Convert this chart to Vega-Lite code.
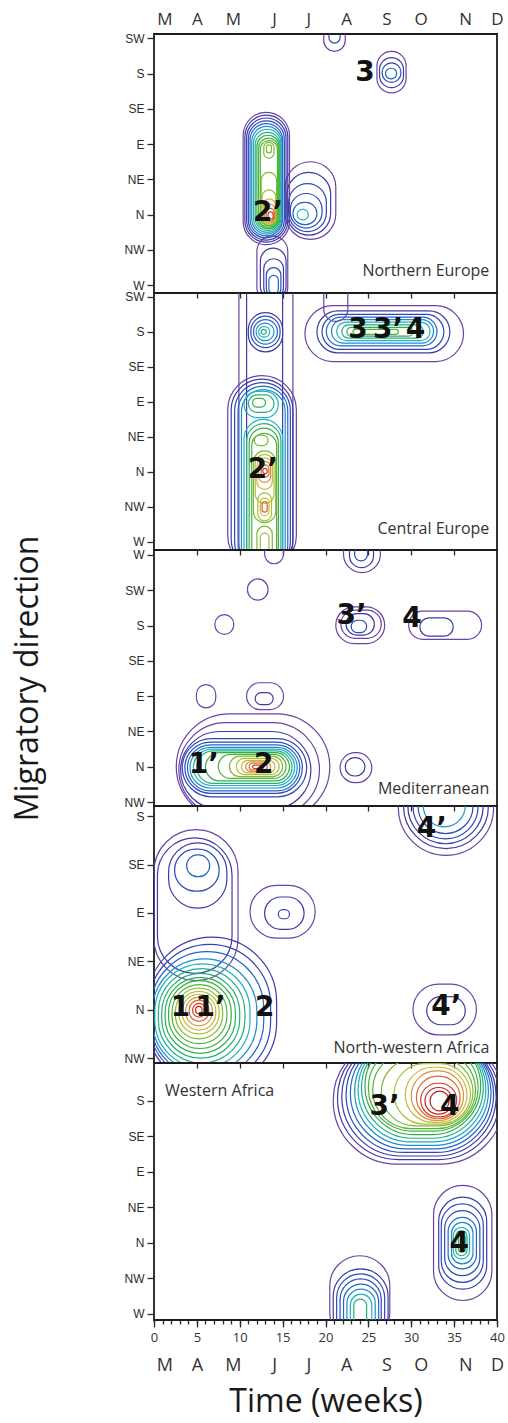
{
"$schema": "https://vega.github.io/schema/vega-lite/v6.json",
"background": "white",
"padding": {"left": 10, "top": 9, "right": 6, "bottom": 2},
"spacing": 0,
"bounds": "flush",
"config": {
 "view": {"stroke": "#1c1c1c", "strokeWidth": 1.8},
 "axis": {"grid": false, "domain": false, "labelFont": "Liberation Sans", "labelFontSize": 12, "labelColor": "#2b2b2b", "tickColor": "#2b2b2b", "tickWidth": 1.3, "titleFont": "Open Sans", "titleFontWeight": "normal", "titleColor": "#1a1a1a", "labelFlush": false, "labelOverlap": false}
},
"datasets": {
 "rings": [
  {"p":1,"lv":1,"x0":12.0,"x1":15.6,"y0":-0.5,"y1":1.4},
  {"p":1,"lv":2,"x0":12.4,"x1":15.4,"y0":-0.4,"y1":1.05},
  {"p":1,"lv":2,"x0":12.8,"x1":15.1,"y0":-0.35,"y1":0.75},
  {"p":1,"lv":3,"x0":13.1,"x1":14.8,"y0":-0.3,"y1":0.5},
  {"p":1,"lv":4,"x0":13.4,"x1":14.5,"y0":-0.25,"y1":0.28},
  {"p":1,"lv":1,"x0":15.3,"x1":21.2,"y0":1.3,"y1":3.5},
  {"p":1,"lv":2,"x0":15.5,"x1":20.6,"y0":1.42,"y1":3.2},
  {"p":1,"lv":3,"x0":15.7,"x1":20.1,"y0":1.52,"y1":2.88},
  {"p":1,"lv":3,"x0":15.9,"x1":19.6,"y0":1.62,"y1":2.6},
  {"p":1,"lv":4,"x0":16.2,"x1":19.0,"y0":1.72,"y1":2.35},
  {"p":1,"lv":6,"x0":16.7,"x1":18.0,"y0":1.85,"y1":2.15},
  {"p":1,"lv":1,"x0":10.4,"x1":15.8,"y0":1.15,"y1":4.9},
  {"p":1,"lv":2,"x0":10.6,"x1":15.6,"y0":1.22,"y1":4.82},
  {"p":1,"lv":2,"x0":10.8,"x1":15.4,"y0":1.28,"y1":4.74},
  {"p":1,"lv":3,"x0":11.0,"x1":15.2,"y0":1.34,"y1":4.66},
  {"p":1,"lv":4,"x0":11.2,"x1":15.0,"y0":1.4,"y1":4.58},
  {"p":1,"lv":5,"x0":11.4,"x1":14.9,"y0":1.45,"y1":4.5},
  {"p":1,"lv":6,"x0":11.6,"x1":14.8,"y0":1.5,"y1":4.42},
  {"p":1,"lv":7,"x0":11.8,"x1":14.7,"y0":1.55,"y1":4.33},
  {"p":1,"lv":8,"x0":12.0,"x1":14.6,"y0":1.6,"y1":4.25},
  {"p":1,"lv":9,"x0":12.2,"x1":14.5,"y0":1.64,"y1":4.17},
  {"p":1,"lv":9,"x0":12.4,"x1":14.4,"y0":1.68,"y1":4.1},
  {"p":1,"lv":10,"x0":12.8,"x1":14.0,"y0":3.6,"y1":4.05},
  {"p":1,"lv":10,"x0":13.1,"x1":13.7,"y0":3.75,"y1":3.98},
  {"p":1,"lv":10,"x0":12.5,"x1":14.3,"y0":1.7,"y1":3.2},
  {"p":1,"lv":11,"x0":12.6,"x1":14.2,"y0":1.73,"y1":2.7},
  {"p":1,"lv":12,"x0":12.75,"x1":14.15,"y0":1.76,"y1":2.45},
  {"p":1,"lv":13,"x0":12.9,"x1":14.1,"y0":1.79,"y1":2.3},
  {"p":1,"lv":14,"x0":13.1,"x1":14.0,"y0":1.82,"y1":2.18},
  {"p":1,"lv":15,"x0":13.3,"x1":13.9,"y0":1.87,"y1":2.08},
  {"p":1,"lv":1,"x0":26.0,"x1":29.4,"y0":5.45,"y1":6.63},
  {"p":1,"lv":2,"x0":26.3,"x1":29.1,"y0":5.6,"y1":6.45},
  {"p":1,"lv":3,"x0":26.6,"x1":28.8,"y0":5.75,"y1":6.3},
  {"p":1,"lv":4,"x0":27.0,"x1":28.3,"y0":5.85,"y1":6.15},
  {"p":1,"lv":1,"x0":19.8,"x1":22.3,"y0":6.63,"y1":7.8},
  {"p":1,"lv":3,"x0":20.4,"x1":21.7,"y0":6.86,"y1":7.6},

  {"p":2,"lv":1,"x0":9.9,"x1":16.2,"y0":-0.8,"y1":7.9},
  {"p":2,"lv":2,"x0":10.8,"x1":15.0,"y0":-0.8,"y1":7.9},
  {"p":2,"lv":1,"x0":8.6,"x1":16.6,"y0":-0.8,"y1":4.75},
  {"p":2,"lv":2,"x0":9.0,"x1":16.2,"y0":-0.8,"y1":4.65},
  {"p":2,"lv":3,"x0":9.4,"x1":15.9,"y0":-0.8,"y1":4.55},
  {"p":2,"lv":4,"x0":9.8,"x1":15.6,"y0":-0.8,"y1":4.45},
  {"p":2,"lv":5,"x0":10.2,"x1":15.3,"y0":-0.8,"y1":4.35},
  {"p":2,"lv":6,"x0":10.5,"x1":14.5,"y0":3.55,"y1":4.3},
  {"p":2,"lv":7,"x0":11.0,"x1":14.0,"y0":3.7,"y1":4.2},
  {"p":2,"lv":8,"x0":11.5,"x1":13.0,"y0":3.85,"y1":4.1},
  {"p":2,"lv":6,"x0":10.5,"x1":15.0,"y0":-0.8,"y1":3.5},
  {"p":2,"lv":7,"x0":10.8,"x1":14.8,"y0":-0.8,"y1":3.38},
  {"p":2,"lv":8,"x0":11.1,"x1":14.5,"y0":-0.8,"y1":3.25},
  {"p":2,"lv":9,"x0":11.4,"x1":14.3,"y0":-0.8,"y1":3.1},
  {"p":2,"lv":10,"x0":11.7,"x1":13.3,"y0":2.75,"y1":3.05},
  {"p":2,"lv":10,"x0":11.6,"x1":14.2,"y0":0.55,"y1":2.6},
  {"p":2,"lv":11,"x0":11.8,"x1":14.0,"y0":1.1,"y1":2.5},
  {"p":2,"lv":12,"x0":12.0,"x1":13.8,"y0":1.5,"y1":2.4},
  {"p":2,"lv":13,"x0":12.2,"x1":13.6,"y0":1.7,"y1":2.3},
  {"p":2,"lv":14,"x0":12.5,"x1":13.4,"y0":1.85,"y1":2.2},
  {"p":2,"lv":15,"x0":12.7,"x1":13.2,"y0":1.95,"y1":2.1},
  {"p":2,"lv":11,"x0":12.1,"x1":13.7,"y0":0.6,"y1":1.4},
  {"p":2,"lv":12,"x0":12.4,"x1":13.4,"y0":0.75,"y1":1.25},
  {"p":2,"lv":14,"x0":12.6,"x1":13.2,"y0":0.85,"y1":1.15},
  {"p":2,"lv":10,"x0":12.0,"x1":13.8,"y0":-0.8,"y1":0.45},
  {"p":2,"lv":11,"x0":12.4,"x1":13.4,"y0":-0.8,"y1":0.25},
  {"p":2,"lv":2,"x0":11.0,"x1":15.0,"y0":5.43,"y1":6.55},
  {"p":2,"lv":3,"x0":11.3,"x1":14.7,"y0":5.55,"y1":6.45},
  {"p":2,"lv":4,"x0":11.6,"x1":14.4,"y0":5.65,"y1":6.35},
  {"p":2,"lv":5,"x0":11.9,"x1":14.0,"y0":5.75,"y1":6.25},
  {"p":2,"lv":6,"x0":12.2,"x1":13.5,"y0":5.85,"y1":6.15},
  {"p":2,"lv":7,"x0":12.5,"x1":13.1,"y0":5.93,"y1":6.07},
  {"p":2,"lv":1,"x0":17.6,"x1":36.1,"y0":5.15,"y1":6.75},
  {"p":2,"lv":2,"x0":19.0,"x1":34.5,"y0":5.4,"y1":6.6},
  {"p":2,"lv":3,"x0":19.6,"x1":33.8,"y0":5.5,"y1":6.5},
  {"p":2,"lv":4,"x0":20.1,"x1":33.0,"y0":5.6,"y1":6.42},
  {"p":2,"lv":5,"x0":20.7,"x1":32.6,"y0":5.68,"y1":6.35},
  {"p":2,"lv":6,"x0":21.3,"x1":32.2,"y0":5.75,"y1":6.28},
  {"p":2,"lv":7,"x0":21.9,"x1":31.4,"y0":5.82,"y1":6.2},
  {"p":2,"lv":8,"x0":22.5,"x1":30.2,"y0":5.88,"y1":6.13},
  {"p":2,"lv":9,"x0":23.2,"x1":28.5,"y0":5.93,"y1":6.07},
  {"p":2,"lv":1,"x0":19.8,"x1":22.6,"y0":6.3,"y1":7.9},

  {"p":3,"lv":1,"x0":12.9,"x1":15.1,"y0":6.75,"y1":7.5},
  {"p":3,"lv":1,"x0":10.9,"x1":13.3,"y0":5.72,"y1":6.32},
  {"p":3,"lv":1,"x0":7.1,"x1":9.3,"y0":4.75,"y1":5.31},
  {"p":3,"lv":1,"x0":4.95,"x1":7.2,"y0":2.67,"y1":3.33},
  {"p":3,"lv":1,"x0":10.8,"x1":15.1,"y0":2.62,"y1":3.38},
  {"p":3,"lv":2,"x0":11.8,"x1":13.9,"y0":2.76,"y1":3.1},
  {"p":3,"lv":1,"x0":22.1,"x1":26.4,"y0":6.5,"y1":7.6},
  {"p":3,"lv":2,"x0":22.8,"x1":25.6,"y0":6.64,"y1":7.5},
  {"p":3,"lv":3,"x0":23.4,"x1":24.9,"y0":6.83,"y1":7.4},
  {"p":3,"lv":1,"x0":21.2,"x1":26.9,"y0":4.49,"y1":5.53},
  {"p":3,"lv":1,"x0":21.8,"x1":26.5,"y0":4.64,"y1":5.44},
  {"p":3,"lv":2,"x0":22.4,"x1":25.7,"y0":4.73,"y1":5.34},
  {"p":3,"lv":3,"x0":23.0,"x1":24.8,"y0":4.8,"y1":5.15},
  {"p":3,"lv":1,"x0":29.7,"x1":38.2,"y0":4.61,"y1":5.41},
  {"p":3,"lv":2,"x0":31.0,"x1":34.9,"y0":4.7,"y1":5.22},
  {"p":3,"lv":1,"x0":21.7,"x1":25.4,"y0":0.55,"y1":1.4},
  {"p":3,"lv":2,"x0":22.3,"x1":24.6,"y0":0.74,"y1":1.26},
  {"p":3,"lv":1,"x0":2.6,"x1":20.5,"y0":-0.5,"y1":2.5},
  {"p":3,"lv":1,"x0":2.9,"x1":19.3,"y0":-0.4,"y1":2.25},
  {"p":3,"lv":2,"x0":3.1,"x1":18.3,"y0":-0.2,"y1":2.0},
  {"p":3,"lv":3,"x0":3.3,"x1":17.8,"y0":0.15,"y1":1.8},
  {"p":3,"lv":3,"x0":3.6,"x1":17.3,"y0":0.25,"y1":1.7},
  {"p":3,"lv":4,"x0":3.9,"x1":17.0,"y0":0.32,"y1":1.62},
  {"p":3,"lv":5,"x0":4.2,"x1":16.7,"y0":0.4,"y1":1.55},
  {"p":3,"lv":6,"x0":4.6,"x1":16.4,"y0":0.47,"y1":1.5},
  {"p":3,"lv":7,"x0":5.0,"x1":16.1,"y0":0.53,"y1":1.45},
  {"p":3,"lv":8,"x0":6.0,"x1":15.8,"y0":0.6,"y1":1.4},
  {"p":3,"lv":9,"x0":7.5,"x1":15.4,"y0":0.67,"y1":1.35},
  {"p":3,"lv":10,"x0":8.8,"x1":15.0,"y0":0.72,"y1":1.3},
  {"p":3,"lv":11,"x0":9.6,"x1":14.6,"y0":0.78,"y1":1.24},
  {"p":3,"lv":12,"x0":10.2,"x1":14.1,"y0":0.83,"y1":1.18},
  {"p":3,"lv":13,"x0":10.7,"x1":13.6,"y0":0.87,"y1":1.14},
  {"p":3,"lv":14,"x0":11.1,"x1":13.2,"y0":0.91,"y1":1.1},
  {"p":3,"lv":15,"x0":11.5,"x1":12.8,"y0":0.95,"y1":1.05},

  {"p":4,"lv":1,"x0":0.0,"x1":9.8,"y0":1.6,"y1":4.72},
  {"p":4,"lv":2,"x0":0.4,"x1":9.1,"y0":1.75,"y1":4.55},
  {"p":4,"lv":2,"x0":1.7,"x1":8.5,"y0":3.1,"y1":4.45},
  {"p":4,"lv":3,"x0":2.4,"x1":7.6,"y0":3.45,"y1":4.32},
  {"p":4,"lv":4,"x0":3.8,"x1":6.5,"y0":3.75,"y1":4.2},
  {"p":4,"lv":2,"x0":-0.8,"x1":14.3,"y0":-0.6,"y1":2.5},
  {"p":4,"lv":3,"x0":-0.6,"x1":13.6,"y0":-0.5,"y1":2.35},
  {"p":4,"lv":4,"x0":-0.4,"x1":12.8,"y0":-0.4,"y1":2.2},
  {"p":4,"lv":5,"x0":-0.2,"x1":12.0,"y0":-0.3,"y1":2.05},
  {"p":4,"lv":6,"x0":0.1,"x1":11.2,"y0":-0.2,"y1":1.95},
  {"p":4,"lv":7,"x0":0.5,"x1":10.6,"y0":-0.1,"y1":1.85},
  {"p":4,"lv":7,"x0":0.9,"x1":10.0,"y0":0.0,"y1":1.75},
  {"p":4,"lv":8,"x0":1.3,"x1":9.5,"y0":0.1,"y1":1.67},
  {"p":4,"lv":8,"x0":1.7,"x1":9.0,"y0":0.2,"y1":1.6},
  {"p":4,"lv":9,"x0":2.1,"x1":8.5,"y0":0.3,"y1":1.52},
  {"p":4,"lv":10,"x0":2.5,"x1":8.0,"y0":0.4,"y1":1.45},
  {"p":4,"lv":11,"x0":2.9,"x1":7.6,"y0":0.5,"y1":1.38},
  {"p":4,"lv":12,"x0":3.3,"x1":7.2,"y0":0.58,"y1":1.32},
  {"p":4,"lv":13,"x0":3.7,"x1":6.8,"y0":0.67,"y1":1.26},
  {"p":4,"lv":14,"x0":4.1,"x1":6.4,"y0":0.76,"y1":1.2},
  {"p":4,"lv":15,"x0":4.5,"x1":6.0,"y0":0.85,"y1":1.13},
  {"p":4,"lv":16,"x0":4.85,"x1":5.6,"y0":0.92,"y1":1.07},
  {"p":4,"lv":1,"x0":11.2,"x1":18.8,"y0":2.48,"y1":3.57},
  {"p":4,"lv":2,"x0":12.9,"x1":17.5,"y0":2.66,"y1":3.33},
  {"p":4,"lv":3,"x0":14.5,"x1":15.8,"y0":2.88,"y1":3.07},
  {"p":4,"lv":1,"x0":28.5,"x1":39.6,"y0":4.19,"y1":6.2},
  {"p":4,"lv":2,"x0":29.1,"x1":39.0,"y0":4.33,"y1":6.2},
  {"p":4,"lv":2,"x0":29.6,"x1":38.4,"y0":4.43,"y1":6.2},
  {"p":4,"lv":3,"x0":30.2,"x1":37.8,"y0":4.53,"y1":6.2},
  {"p":4,"lv":3,"x0":30.8,"x1":37.2,"y0":4.64,"y1":6.2},
  {"p":4,"lv":5,"x0":31.4,"x1":36.3,"y0":4.78,"y1":6.2},
  {"p":4,"lv":1,"x0":30.2,"x1":37.6,"y0":0.48,"y1":1.53},
  {"p":4,"lv":2,"x0":31.8,"x1":36.3,"y0":0.69,"y1":1.27},

  {"p":5,"lv":1,"x0":20.9,"x1":40.8,"y0":4.22,"y1":7.8},
  {"p":5,"lv":2,"x0":21.4,"x1":40.3,"y0":4.35,"y1":7.8},
  {"p":5,"lv":2,"x0":21.9,"x1":39.9,"y0":4.45,"y1":7.8},
  {"p":5,"lv":3,"x0":22.4,"x1":39.6,"y0":4.55,"y1":7.8},
  {"p":5,"lv":4,"x0":22.9,"x1":39.3,"y0":4.65,"y1":7.8},
  {"p":5,"lv":5,"x0":23.4,"x1":39.0,"y0":4.75,"y1":7.8},
  {"p":5,"lv":6,"x0":23.8,"x1":38.7,"y0":4.85,"y1":7.8},
  {"p":5,"lv":7,"x0":24.2,"x1":38.4,"y0":4.95,"y1":7.8},
  {"p":5,"lv":8,"x0":24.6,"x1":38.1,"y0":5.05,"y1":7.8},
  {"p":5,"lv":9,"x0":25.0,"x1":37.8,"y0":5.15,"y1":7.6},
  {"p":5,"lv":9,"x0":25.5,"x1":37.5,"y0":5.22,"y1":7.4},
  {"p":5,"lv":10,"x0":26.5,"x1":37.2,"y0":5.3,"y1":7.2},
  {"p":5,"lv":11,"x0":28.0,"x1":36.9,"y0":5.35,"y1":7.05},
  {"p":5,"lv":12,"x0":29.3,"x1":36.5,"y0":5.4,"y1":6.95},
  {"p":5,"lv":13,"x0":30.0,"x1":36.1,"y0":5.45,"y1":6.85},
  {"p":5,"lv":14,"x0":30.6,"x1":35.7,"y0":5.5,"y1":6.7},
  {"p":5,"lv":15,"x0":31.1,"x1":35.3,"y0":5.55,"y1":6.5},
  {"p":5,"lv":16,"x0":31.6,"x1":34.8,"y0":5.63,"y1":6.38},
  {"p":5,"lv":17,"x0":32.2,"x1":34.4,"y0":5.72,"y1":6.28},
  {"p":5,"lv":1,"x0":20.5,"x1":27.5,"y0":-0.8,"y1":1.64},
  {"p":5,"lv":2,"x0":20.9,"x1":27.3,"y0":-0.8,"y1":1.27},
  {"p":5,"lv":3,"x0":21.3,"x1":26.9,"y0":-0.8,"y1":1.13},
  {"p":5,"lv":3,"x0":21.7,"x1":26.5,"y0":-0.8,"y1":0.99},
  {"p":5,"lv":4,"x0":22.1,"x1":26.2,"y0":-0.8,"y1":0.84},
  {"p":5,"lv":5,"x0":22.5,"x1":25.8,"y0":-0.8,"y1":0.7},
  {"p":5,"lv":6,"x0":22.9,"x1":25.4,"y0":-0.8,"y1":0.56},
  {"p":5,"lv":7,"x0":23.3,"x1":24.8,"y0":-0.8,"y1":0.42},
  {"p":5,"lv":1,"x0":32.6,"x1":39.4,"y0":0.38,"y1":3.62},
  {"p":5,"lv":2,"x0":33.2,"x1":38.8,"y0":0.7,"y1":3.29},
  {"p":5,"lv":3,"x0":33.5,"x1":38.4,"y0":0.89,"y1":3.1},
  {"p":5,"lv":3,"x0":33.9,"x1":38.0,"y0":1.08,"y1":2.91},
  {"p":5,"lv":4,"x0":34.3,"x1":37.6,"y0":1.27,"y1":2.72},
  {"p":5,"lv":5,"x0":34.7,"x1":37.2,"y0":1.41,"y1":2.58},
  {"p":5,"lv":6,"x0":34.9,"x1":36.8,"y0":1.55,"y1":2.44},
  {"p":5,"lv":7,"x0":35.2,"x1":36.5,"y0":1.64,"y1":2.35},
  {"p":5,"lv":7,"x0":35.5,"x1":36.3,"y0":1.74,"y1":2.25}
 ],
 "digits": [
  {"p":1,"t":"2’","x":13.3,"y":2.05},
  {"p":1,"t":"3","x":24.6,"y":6.01},
  {"p":2,"t":"2’","x":12.7,"y":2.06},
  {"p":2,"t":"3","x":23.8,"y":6.05},
  {"p":2,"t":"3’","x":27.3,"y":6.05},
  {"p":2,"t":"4","x":30.5,"y":6.05},
  {"p":3,"t":"1’","x":5.8,"y":1.04},
  {"p":3,"t":"2","x":12.8,"y":1.04},
  {"p":3,"t":"3’","x":23.05,"y":5.27},
  {"p":3,"t":"4","x":30.1,"y":5.19},
  {"p":4,"t":"1","x":3.1,"y":1.03},
  {"p":4,"t":"1’","x":6.6,"y":1.03},
  {"p":4,"t":"2","x":12.9,"y":1.03},
  {"p":4,"t":"4’","x":32.4,"y":4.74},
  {"p":4,"t":"4’","x":34.1,"y":1.05},
  {"p":5,"t":"3’","x":26.9,"y":5.82},
  {"p":5,"t":"4","x":34.5,"y":5.82},
  {"p":5,"t":"4","x":35.6,"y":1.97}
 ],
 "regions": [
  {"p":1,"name":"Northern Europe","x":39.1,"y":0.4},
  {"p":2,"name":"Central Europe","x":39.1,"y":0.37},
  {"p":3,"name":"Mediterranean","x":39.1,"y":0.36},
  {"p":4,"name":"North-western Africa","x":39.1,"y":0.21},
  {"p":5,"name":"Western Africa","x":1.28,"y":6.27}
 ]
},
"vconcat": [
 {
  "width": 343, "height": 259,
  "resolve": {"axis": {"x": "independent"}},
  "layer": [
   {
    "data": {"name": "rings"},
    "transform": [{"filter": "datum.p == 1"}],
    "mark": {"type": "rect", "filled": false, "cornerRadius": 999, "strokeWidth": 1.2, "clip": true},
    "encoding": {
     "x": {"field": "x0", "type": "quantitative", "scale": {"domain": [0, 40], "nice": false, "zero": false},
      "axis": {"orient": "top", "values": [1.2, 5, 9.2, 14, 18, 22.4, 27.1, 31.1, 36.3, 40], "tickCount": 60, "labelExpr": "datum.value < 3 ? 'M' : datum.value < 7 ? 'A' : datum.value < 11 ? 'M' : datum.value < 16 ? 'J' : datum.value < 20 ? 'J' : datum.value < 25 ? 'A' : datum.value < 29 ? 'S' : datum.value < 34 ? 'O' : datum.value < 38 ? 'N' : 'D'", "ticks": false, "labelFont": "Open Sans", "labelFontSize": 17, "labelColor": "#333", "labelPadding": 6, "title": null}},
     "x2": {"field": "x1"},
     "y": {"field": "y0", "type": "quantitative", "scale": {"domain": [-0.22, 7.12], "nice": false, "zero": false},
      "axis": {"values": [0,1,2,3,4,5,6,7], "tickCount": 60, "labelExpr": "['W','NW','N','NE','E','SE','S','SW'][datum.value]", "tickSize": 7, "labelPadding": 3, "title": null}},
     "y2": {"field": "y1"},
     "color": {"field": "lv", "type": "ordinal", "legend": null, "scale": {"domain": [1,2,3,4,5,6,7,8,9,10,11,12,13,14,15,16,17], "range": ["#6b42a6","#3f3aa6","#2c49b8","#2566c8","#1f8ecc","#1fb3c4","#22b07e","#2fae4a","#4db43a","#7cbd35","#a8c13a","#cdb836","#d9923a","#d9682f","#d43d28","#cc2222","#c41a1a"]}}
    }
   },
   {
    "data": {"name": "digits"},
    "transform": [{"filter": "datum.p == 1"}],
    "mark": {"type": "text", "font": "DejaVu Sans", "fontWeight": "bold", "fontSize": 28, "color": "#111"},
    "encoding": {
     "x": {"field": "x", "type": "quantitative", "axis": {"orient": "bottom", "values": [5,10,15,20,25,30,35], "tickCount": 60, "labels": false, "tickSize": 5, "title": null}},
     "y": {"field": "y", "type": "quantitative"},
     "text": {"field": "t"}
    }
   },
   {
    "data": {"name": "regions"},
    "transform": [{"filter": "datum.p == 1"}],
    "mark": {"type": "text", "font": "Open Sans", "fontSize": 16, "align": "right", "color": "#333"},
    "encoding": {
     "x": {"field": "x", "type": "quantitative", "axis": null},
     "y": {"field": "y", "type": "quantitative"},
     "text": {"field": "name"}
    }
   }
  ]
 },
 {
  "width": 343, "height": 257,
  "layer": [
   {
    "data": {"name": "rings"},
    "transform": [{"filter": "datum.p == 2"}],
    "mark": {"type": "rect", "filled": false, "cornerRadius": 999, "strokeWidth": 1.2, "clip": true},
    "encoding": {
     "x": {"field": "x0", "type": "quantitative", "scale": {"domain": [0, 40], "nice": false, "zero": false},
      "axis": {"orient": "bottom", "values": [5,10,15,20,25,30,35], "tickCount": 60, "labels": false, "tickSize": 5, "title": null}},
     "x2": {"field": "x1"},
     "y": {"field": "y0", "type": "quantitative", "scale": {"domain": [-0.23, 7.11], "nice": false, "zero": false},
      "axis": {"values": [0,1,2,3,4,5,6,7], "tickCount": 60, "labelExpr": "['W','NW','N','NE','E','SE','S','SW'][datum.value]", "tickSize": 7, "labelPadding": 3, "title": null}},
     "y2": {"field": "y1"},
     "color": {"field": "lv", "type": "ordinal", "legend": null, "scale": {"domain": [1,2,3,4,5,6,7,8,9,10,11,12,13,14,15,16,17], "range": ["#6b42a6","#3f3aa6","#2c49b8","#2566c8","#1f8ecc","#1fb3c4","#22b07e","#2fae4a","#4db43a","#7cbd35","#a8c13a","#cdb836","#d9923a","#d9682f","#d43d28","#cc2222","#c41a1a"]}}
    }
   },
   {
    "data": {"name": "digits"},
    "transform": [{"filter": "datum.p == 2"}],
    "mark": {"type": "text", "font": "DejaVu Sans", "fontWeight": "bold", "fontSize": 28, "color": "#111"},
    "encoding": {
     "x": {"field": "x", "type": "quantitative"},
     "y": {"field": "y", "type": "quantitative"},
     "text": {"field": "t"}
    }
   },
   {
    "data": {"name": "regions"},
    "transform": [{"filter": "datum.p == 2"}],
    "mark": {"type": "text", "font": "Open Sans", "fontSize": 16, "align": "right", "color": "#333"},
    "encoding": {
     "x": {"field": "x", "type": "quantitative"},
     "y": {"field": "y", "type": "quantitative"},
     "text": {"field": "name"}
    }
   }
  ]
 },
 {
  "width": 343, "height": 256,
  "layer": [
   {
    "data": {"name": "rings"},
    "transform": [{"filter": "datum.p == 3"}],
    "mark": {"type": "rect", "filled": false, "cornerRadius": 999, "strokeWidth": 1.2, "clip": true},
    "encoding": {
     "x": {"field": "x0", "type": "quantitative", "scale": {"domain": [0, 40], "nice": false, "zero": false},
      "axis": {"orient": "bottom", "values": [5,10,15,20,25,30,35], "tickCount": 60, "labels": false, "tickSize": 5, "title": null}},
     "x2": {"field": "x1"},
     "y": {"field": "y0", "type": "quantitative", "scale": {"domain": [-0.11, 7.14], "nice": false, "zero": false},
      "axis": {"values": [0,1,2,3,4,5,6,7], "tickCount": 60, "labelExpr": "['NW','N','NE','E','SE','S','SW','W'][datum.value]", "tickSize": 7, "labelPadding": 3, "title": "Migratory direction", "titleFontSize": 32, "titlePadding": 80}},
     "y2": {"field": "y1"},
     "color": {"field": "lv", "type": "ordinal", "legend": null, "scale": {"domain": [1,2,3,4,5,6,7,8,9,10,11,12,13,14,15,16,17], "range": ["#6b42a6","#3f3aa6","#2c49b8","#2566c8","#1f8ecc","#1fb3c4","#22b07e","#2fae4a","#4db43a","#7cbd35","#a8c13a","#cdb836","#d9923a","#d9682f","#d43d28","#cc2222","#c41a1a"]}}
    }
   },
   {
    "data": {"name": "digits"},
    "transform": [{"filter": "datum.p == 3"}],
    "mark": {"type": "text", "font": "DejaVu Sans", "fontWeight": "bold", "fontSize": 28, "color": "#111"},
    "encoding": {
     "x": {"field": "x", "type": "quantitative"},
     "y": {"field": "y", "type": "quantitative"},
     "text": {"field": "t"}
    }
   },
   {
    "data": {"name": "regions"},
    "transform": [{"filter": "datum.p == 3"}],
    "mark": {"type": "text", "font": "Open Sans", "fontSize": 16, "align": "right", "color": "#333"},
    "encoding": {
     "x": {"field": "x", "type": "quantitative"},
     "y": {"field": "y", "type": "quantitative"},
     "text": {"field": "name"}
    }
   }
  ]
 },
 {
  "width": 343, "height": 257,
  "layer": [
   {
    "data": {"name": "rings"},
    "transform": [{"filter": "datum.p == 4"}],
    "mark": {"type": "rect", "filled": false, "cornerRadius": 999, "strokeWidth": 1.2, "clip": true},
    "encoding": {
     "x": {"field": "x0", "type": "quantitative", "scale": {"domain": [0, 40], "nice": false, "zero": false},
      "axis": {"orient": "bottom", "values": [5,10,15,20,25,30,35], "tickCount": 60, "labels": false, "tickSize": 5, "title": null}},
     "x2": {"field": "x1"},
     "y": {"field": "y0", "type": "quantitative", "scale": {"domain": [-0.1, 5.21], "nice": false, "zero": false},
      "axis": {"values": [0,1,2,3,4,5], "tickCount": 60, "labelExpr": "['NW','N','NE','E','SE','S'][datum.value]", "tickSize": 7, "labelPadding": 3, "title": null}},
     "y2": {"field": "y1"},
     "color": {"field": "lv", "type": "ordinal", "legend": null, "scale": {"domain": [1,2,3,4,5,6,7,8,9,10,11,12,13,14,15,16,17], "range": ["#6b42a6","#3f3aa6","#2c49b8","#2566c8","#1f8ecc","#1fb3c4","#22b07e","#2fae4a","#4db43a","#7cbd35","#a8c13a","#cdb836","#d9923a","#d9682f","#d43d28","#cc2222","#c41a1a"]}}
    }
   },
   {
    "data": {"name": "digits"},
    "transform": [{"filter": "datum.p == 4"}],
    "mark": {"type": "text", "font": "DejaVu Sans", "fontWeight": "bold", "fontSize": 28, "color": "#111"},
    "encoding": {
     "x": {"field": "x", "type": "quantitative"},
     "y": {"field": "y", "type": "quantitative"},
     "text": {"field": "t"}
    }
   },
   {
    "data": {"name": "regions"},
    "transform": [{"filter": "datum.p == 4"}],
    "mark": {"type": "text", "font": "Open Sans", "fontSize": 16, "align": "right", "color": "#333"},
    "encoding": {
     "x": {"field": "x", "type": "quantitative"},
     "y": {"field": "y", "type": "quantitative"},
     "text": {"field": "name"}
    }
   }
  ]
 },
 {
  "width": 343, "height": 257,
  "resolve": {"axis": {"x": "independent"}},
  "layer": [
   {
    "data": {"name": "rings"},
    "transform": [{"filter": "datum.p == 5"}],
    "mark": {"type": "rect", "filled": false, "cornerRadius": 999, "strokeWidth": 1.2, "clip": true},
    "encoding": {
     "x": {"field": "x0", "type": "quantitative", "scale": {"domain": [0, 40], "nice": false, "zero": false},
      "axis": {"orient": "bottom", "values": [0,5,10,15,20,25,30,35,40], "tickCount": 60, "format": "d", "tickSize": 7, "labelPadding": 4, "labelFont": "Open Sans", "labelFontSize": 13, "labelColor": "#333", "title": null}},
     "x2": {"field": "x1"},
     "y": {"field": "y0", "type": "quantitative", "scale": {"domain": [-0.17, 7.07], "nice": false, "zero": false},
      "axis": {"values": [0,1,2,3,4,5,6], "tickCount": 60, "labelExpr": "['W','NW','N','NE','E','SE','S'][datum.value]", "tickSize": 7, "labelPadding": 3, "title": null}},
     "y2": {"field": "y1"},
     "color": {"field": "lv", "type": "ordinal", "legend": null, "scale": {"domain": [1,2,3,4,5,6,7,8,9,10,11,12,13,14,15,16,17], "range": ["#6b42a6","#3f3aa6","#2c49b8","#2566c8","#1f8ecc","#1fb3c4","#22b07e","#2fae4a","#4db43a","#7cbd35","#a8c13a","#cdb836","#d9923a","#d9682f","#d43d28","#cc2222","#c41a1a"]}}
    }
   },
   {
    "data": {"name": "digits"},
    "transform": [{"filter": "datum.p == 5"}],
    "mark": {"type": "text", "font": "DejaVu Sans", "fontWeight": "bold", "fontSize": 28, "color": "#111"},
    "encoding": {
     "x": {"field": "x", "type": "quantitative", "axis": {"orient": "bottom", "values": [0,1,2,3,4,5,6,7,8,9,10,11,12,13,14,15,16,17,18,19,20,21,22,23,24,25,26,27,28,29,30,31,32,33,34,35,36,37,38,39,40], "tickCount": 60, "labels": false, "tickSize": 4, "title": null}},
     "y": {"field": "y", "type": "quantitative"},
     "text": {"field": "t"}
    }
   },
   {
    "data": {"name": "regions"},
    "transform": [{"filter": "datum.p == 5"}],
    "mark": {"type": "text", "font": "Open Sans", "fontSize": 16, "align": "left", "color": "#333"},
    "encoding": {
     "x": {"field": "x", "type": "quantitative", "axis": {"orient": "bottom", "values": [1.2, 5, 9.2, 14, 18, 22.4, 27.1, 31.1, 36.3, 40], "tickCount": 60, "labelExpr": "datum.value < 3 ? 'M' : datum.value < 7 ? 'A' : datum.value < 11 ? 'M' : datum.value < 16 ? 'J' : datum.value < 20 ? 'J' : datum.value < 25 ? 'A' : datum.value < 29 ? 'S' : datum.value < 34 ? 'O' : datum.value < 38 ? 'N' : 'D'", "ticks": false, "labelFont": "Open Sans", "labelFontSize": 18, "labelColor": "#333", "labelPadding": 36, "title": "Time (weeks)", "titleFontSize": 32, "titlePadding": 12}},
     "y": {"field": "y", "type": "quantitative"},
     "text": {"field": "name"}
    }
   }
  ]
 }
]
}
